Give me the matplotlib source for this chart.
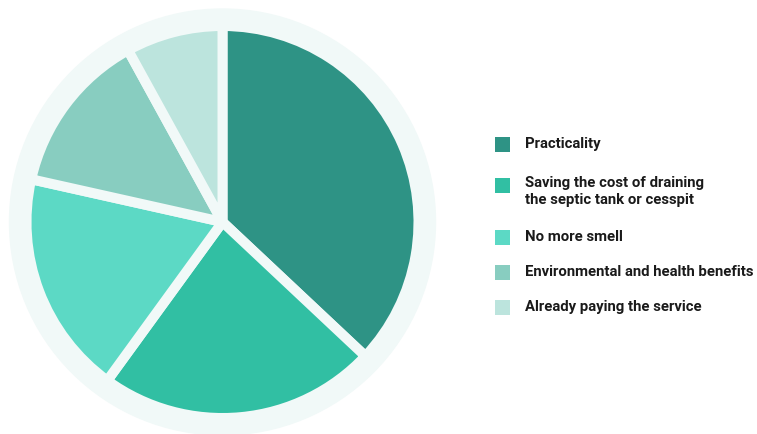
import matplotlib
matplotlib.use("Agg")
import matplotlib.pyplot as plt
from matplotlib.patches import Circle, Rectangle

categories = ["Practicality",
              "Saving the cost of draining\nthe septic tank or cesspit",
              "No more smell",
              "Environmental and health benefits",
              "Already paying the service"]
values = [37, 23, 18.5, 13.5, 8]
colors = ["#2e9385", "#31bfa3", "#5cd9c5", "#88cdc0", "#bce4dd"]
bg = "#f1f9f8"

W, H = 757, 434
fig = plt.figure(figsize=(W / 100, H / 100), dpi=100)
ax = fig.add_axes([0, 0, 1, 1])

cx, cy = 222.5, H - 222
ax.add_patch(Circle((cx, cy), 213, color=bg, zorder=0))
ax.pie(values, colors=colors, startangle=90, counterclock=False,
       center=(cx, cy), radius=196, frame=True,
       wedgeprops=dict(edgecolor=bg, linewidth=7.2, joinstyle="round"))
ax.set_xlim(0, W)
ax.set_ylim(0, H)
ax.set_aspect("equal")
ax.axis("off")

ys = [144, 185, 237, 272, 307]
for lab, col, y in zip(categories, colors, ys):
    ax.add_patch(Rectangle((495, H - y - 7.5), 15, 15, color=col, lw=0))
    if "\n" in lab:
        ax.text(525, H - y + 8.5, lab, fontsize=10.7, family="Roboto",
                weight="bold", color="#1a1a1a", va="top", linespacing=1.2)
    else:
        ax.text(525, H - y, lab, fontsize=10.7, family="Roboto",
                weight="bold", color="#1a1a1a", va="center")

fig.savefig("out.png", dpi=100)
